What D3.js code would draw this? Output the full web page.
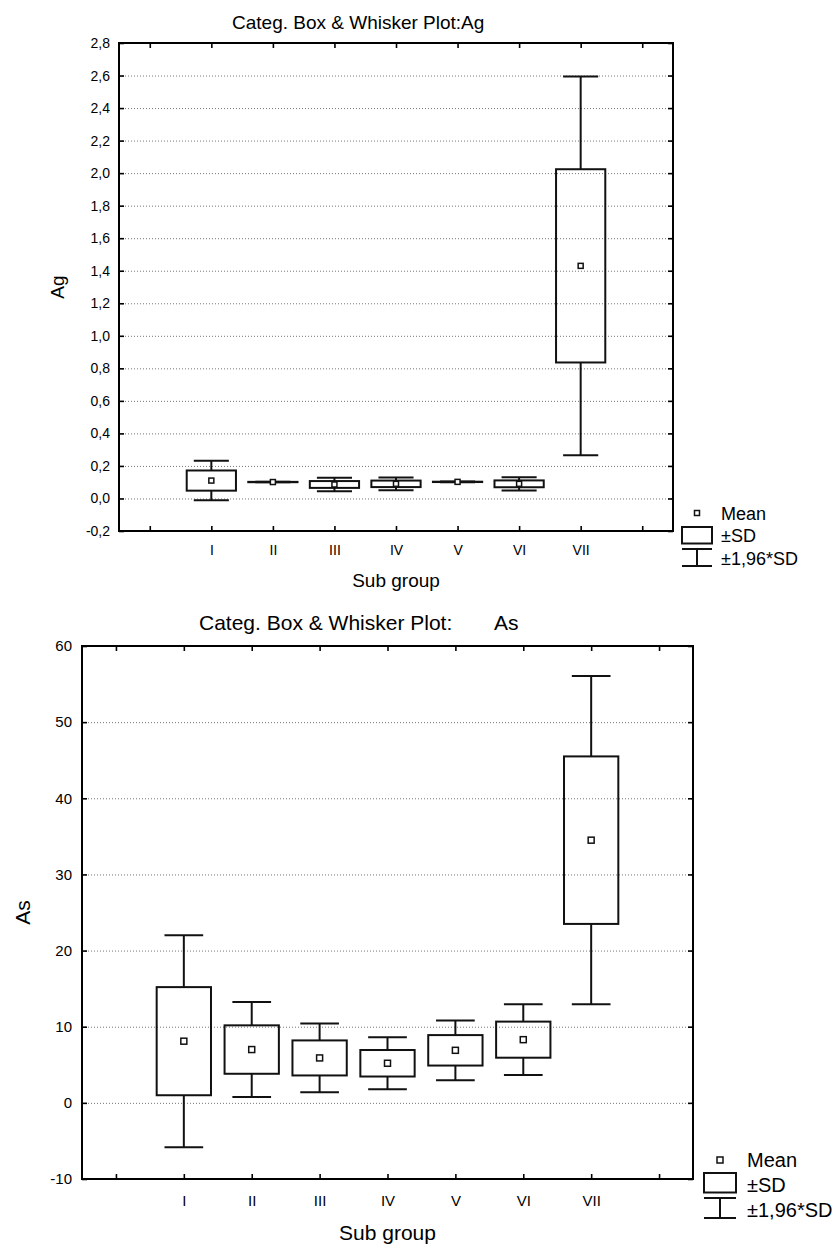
<!DOCTYPE html>
<html>
<head>
<meta charset="utf-8">
<script src="https://cdn.jsdelivr.net/npm/d3@7"></script>
<style>
  body { margin: 0; background: #fff; }
  svg { display: block; font-family: "Liberation Sans", Arial, sans-serif; }
  .grid line { stroke: #777; stroke-width: 1; stroke-dasharray: 1,2; }
  .grid path { display: none; }
  .ax path { display: none; }
  .ax line { stroke: #000; stroke-width: 1.6; }
  .ax text { fill: #000; }
</style>
</head>
<body>
<div></div>
<script>
// sub groups (blank slots at both ends, as in the original frame)
const groups = ['I', 'II', 'III', 'IV', 'V', 'VI', 'VII'];
const slots = ['s0', ...groups, 's8'];

// Ag: mean and standard deviation per sub group
const agMean = [0.110, 0.101, 0.086, 0.090, 0.102, 0.090, 1.430];
const agSd = [0.062, 0.001, 0.021, 0.020, 0.001, 0.021, 0.594];
const agTicks = [-0.2, 0, 0.2, 0.4, 0.6, 0.8, 1.0, 1.2, 1.4, 1.6, 1.8, 2.0, 2.2, 2.4, 2.6, 2.8];

// As: mean and standard deviation per sub group
const asMean = [8.1, 7.0, 5.9, 5.2, 6.9, 8.3, 34.5];
const asSd = [7.1, 3.18, 2.3, 1.74, 2.0, 2.37, 11.0];
const asTicks = [-10, 0, 10, 20, 30, 40, 50, 60];

const K = 1.96;

const svg = d3.select('div').append('svg')
    .attr('width', 839)
    .attr('height', 1245);

function drawChart(cfg) {
    const g = svg.append('g');
    const x = d3.scalePoint()
        .domain(slots)
        .range([cfg.left, cfg.right])
        .padding(0.5);
    const y = d3.scaleLinear()
        .domain(cfg.domain)
        .range([cfg.bottom, cfg.top]);
    const w = cfg.right - cfg.left;
    const step = x.step();

    // grid lines
    g.append('g')
        .attr('class', 'grid')
        .attr('transform', 'translate(' + cfg.left + ',0)')
        .call(d3.axisLeft(y).tickValues(cfg.ticks.slice(1, -1)).tickSize(-w).tickFormat(''));

    // axes with inward ticks
    g.append('g').attr('class', 'ax')
        .attr('transform', 'translate(' + cfg.left + ',0)')
        .call(d3.axisLeft(y).tickValues(cfg.ticks).tickSizeInner(-5).tickSizeOuter(0)
            .tickPadding(cfg.yPad).tickFormat(cfg.fmt));
    g.append('g').attr('class', 'ax')
        .attr('transform', 'translate(' + cfg.right + ',0)')
        .call(d3.axisRight(y).tickValues(cfg.ticks).tickSizeInner(-5).tickSizeOuter(0).tickFormat(''));
    g.append('g').attr('class', 'ax')
        .attr('transform', 'translate(0,' + cfg.bottom + ')')
        .call(d3.axisBottom(x).tickSizeInner(-5).tickSizeOuter(0)
            .tickPadding(cfg.xPad).tickFormat(d => groups.includes(d) ? d : ''));
    g.append('g').attr('class', 'ax')
        .attr('transform', 'translate(0,' + cfg.top + ')')
        .call(d3.axisTop(x).tickSizeInner(-5).tickSizeOuter(0).tickFormat(''));
    g.selectAll('.ax')
        .attr('font-family', null)
        .attr('font-size', cfg.tickFont);

    // frame
    g.append('rect')
        .attr('x', cfg.left).attr('y', cfg.top)
        .attr('width', w).attr('height', cfg.bottom - cfg.top)
        .attr('fill', 'none').attr('stroke', '#000').attr('stroke-width', 2);

    // boxes
    const data = groups.map((k, i) => ({ k: k, m: cfg.mean[i], s: cfg.sd[i] }));
    const boxW = step * 0.8;
    const capW = step * 0.57;
    const items = g.append('g').selectAll('g').data(data).join('g')
        .attr('stroke', '#111').attr('stroke-width', 2).attr('fill', 'none');
    items.append('line')
        .attr('x1', d => x(d.k)).attr('x2', d => x(d.k))
        .attr('y1', d => y(d.m + K * d.s)).attr('y2', d => y(d.m + d.s));
    items.append('line')
        .attr('x1', d => x(d.k)).attr('x2', d => x(d.k))
        .attr('y1', d => y(d.m - d.s)).attr('y2', d => y(d.m - K * d.s));
    items.append('line')
        .attr('x1', d => x(d.k) - capW / 2).attr('x2', d => x(d.k) + capW / 2)
        .attr('y1', d => y(d.m + K * d.s)).attr('y2', d => y(d.m + K * d.s));
    items.append('line')
        .attr('x1', d => x(d.k) - capW / 2).attr('x2', d => x(d.k) + capW / 2)
        .attr('y1', d => y(d.m - K * d.s)).attr('y2', d => y(d.m - K * d.s));
    items.append('rect')
        .attr('x', d => x(d.k) - boxW / 2)
        .attr('y', d => y(d.m + d.s))
        .attr('width', boxW)
        .attr('height', d => Math.max(0.3, y(d.m - d.s) - y(d.m + d.s)));
    items.append('rect')
        .attr('x', d => x(d.k) - cfg.mk / 2)
        .attr('y', d => y(d.m) - cfg.mk / 2)
        .attr('width', cfg.mk).attr('height', cfg.mk)
        .attr('fill', '#fff').attr('stroke-width', 1.5);

    // titles
    const title = g.append('text')
        .attr('x', cfg.titleX).attr('y', cfg.titleY)
        .style('font-size', cfg.titleFont + 'px');
    title.append('tspan').text('Categ. Box & Whisker Plot:');
    title.append('tspan').attr('x', cfg.varX).text(cfg.name);
    g.append('text')
        .attr('x', (cfg.left + cfg.right) / 2).attr('y', cfg.subY)
        .attr('text-anchor', 'middle')
        .style('font-size', cfg.titleFont + 'px')
        .text('Sub group');
    g.append('text')
        .attr('transform', 'translate(' + cfg.nameX + ',' + (cfg.top + cfg.bottom) / 2 + ') rotate(-90)')
        .attr('text-anchor', 'middle')
        .style('font-size', cfg.titleFont + 'px')
        .text(cfg.name);

    // legend
    const L = cfg.leg;
    const lg = g.append('g').attr('stroke', '#111').attr('stroke-width', 2).attr('fill', 'none');
    lg.append('rect').attr('x', L.cx - cfg.mk / 2).attr('y', L.my - cfg.mk / 2)
        .attr('width', cfg.mk).attr('height', cfg.mk).attr('stroke-width', 1.5);
    lg.append('rect').attr('x', L.cx - L.w / 2).attr('y', L.by).attr('width', L.w).attr('height', L.bh);
    lg.append('line').attr('x1', L.cx - L.w / 2).attr('x2', L.cx + L.w / 2).attr('y1', L.wy1).attr('y2', L.wy1);
    lg.append('line').attr('x1', L.cx - L.w / 2).attr('x2', L.cx + L.w / 2).attr('y1', L.wy2).attr('y2', L.wy2);
    lg.append('line').attr('x1', L.cx).attr('x2', L.cx).attr('y1', L.wy1).attr('y2', L.wy2);
    const lt = g.append('g').style('font-size', L.font + 'px');
    lt.append('text').attr('x', L.tx).attr('y', L.t1).text('Mean');
    lt.append('text').attr('x', L.tx).attr('y', L.t2).text('±SD');
    lt.append('text').attr('x', L.tx).attr('y', L.t3).text('±1,96*SD');
}

drawChart({
    name: 'Ag', mean: agMean, sd: agSd, ticks: agTicks, domain: [-0.2, 2.8],
    left: 119, right: 673, top: 43, bottom: 531,
    fmt: v => v.toFixed(1).replace('.', ','),
    tickFont: 14, yPad: 9, xPad: 14, mk: 5,
    titleFont: 19, titleX: 232, varX: 461, titleY: 29, subY: 587, nameX: 64,
    leg: { cx: 697, w: 30, my: 513, by: 527, bh: 16.5, wy1: 549, wy2: 566,
        tx: 721, t1: 520, t2: 542, t3: 565, font: 18 }
});

drawChart({
    name: 'As', mean: asMean, sd: asSd, ticks: asTicks, domain: [-10, 60],
    left: 82, right: 693, top: 646, bottom: 1179,
    fmt: v => String(v),
    tickFont: 15, yPad: 10, xPad: 16, mk: 6,
    titleFont: 21, titleX: 199, varX: 494, titleY: 630, subY: 1240, nameX: 30,
    leg: { cx: 720, w: 32, my: 1160, by: 1173, bh: 19.5, wy1: 1198, wy2: 1218,
        tx: 747, t1: 1167, t2: 1192, t3: 1217, font: 20 }
});
</script>
</body>
</html>
